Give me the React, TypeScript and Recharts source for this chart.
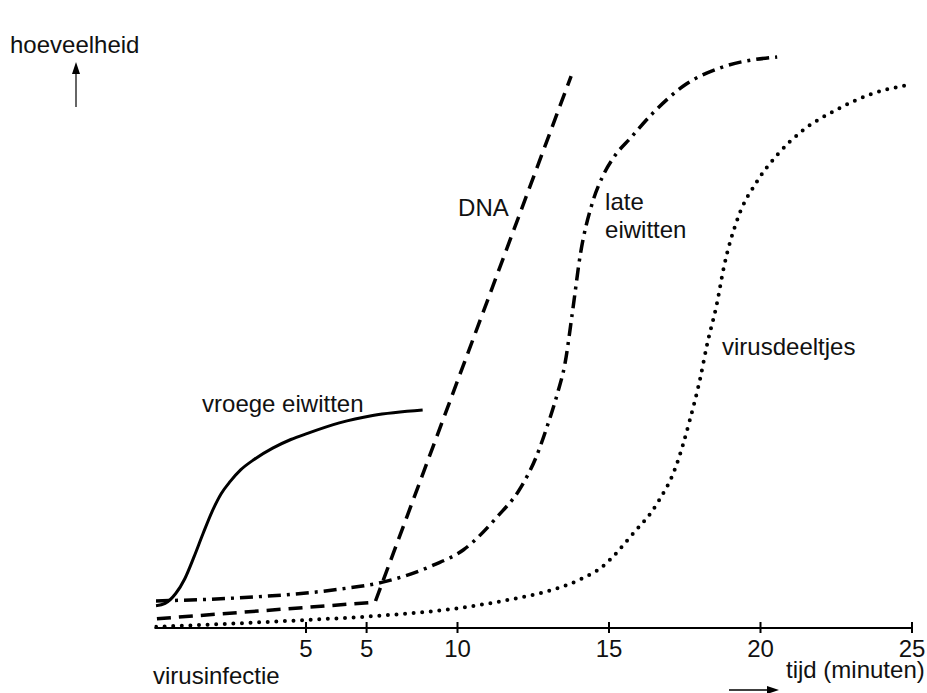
import React from 'react';
import { LineChart, Line, XAxis, YAxis, ReferenceDot } from 'recharts';

// time (minutes) vs amount (arbitrary units 0-100)
const vroegeEiwitten = [
  { t: 0.05, v: 3.6 }, { t: 0.35, v: 4.0 }, { t: 0.7, v: 5.6 }, { t: 1.0, v: 8.0 },
  { t: 1.3, v: 11.5 }, { t: 1.6, v: 15.3 }, { t: 1.9, v: 18.9 }, { t: 2.2, v: 21.8 },
  { t: 2.5, v: 23.8 }, { t: 2.85, v: 25.7 }, { t: 3.3, v: 27.4 }, { t: 3.9, v: 29.2 },
  { t: 4.5, v: 30.6 }, { t: 5.05, v: 31.6 }, { t: 6.1, v: 33.3 }, { t: 7.2, v: 34.5 },
  { t: 8.85, v: 35.4 },
];

const dna = [
  { t: 0.08, v: 1.5 }, { t: 7.28, v: 4.2 }, { t: 13.75, v: 89.6 },
];

const lateEiwitten = [
  { t: 0.05, v: 4.4 }, { t: 2.8, v: 4.9 }, { t: 6.1, v: 6.3 }, { t: 7.5, v: 7.4 },
  { t: 9.2, v: 10.2 }, { t: 10.2, v: 12.7 }, { t: 11.3, v: 18.0 }, { t: 12.1, v: 22.9 },
  { t: 12.6, v: 27.8 }, { t: 12.95, v: 32.6 }, { t: 13.3, v: 38.1 }, { t: 13.55, v: 43.0 },
  { t: 13.8, v: 51.5 }, { t: 14.05, v: 60.5 }, { t: 14.45, v: 69.0 }, { t: 14.8, v: 73.4 },
  { t: 15.2, v: 76.7 }, { t: 15.7, v: 79.5 }, { t: 16.45, v: 83.6 }, { t: 17.55, v: 88.3 },
  { t: 18.65, v: 90.9 }, { t: 20.55, v: 92.7 },
];

const virusdeeltjes = [
  { t: 0.05, v: 0.2 }, { t: 2.5, v: 0.7 }, { t: 5, v: 1.3 }, { t: 7, v: 1.85 },
  { t: 10, v: 3.2 }, { t: 11.6, v: 4.5 }, { t: 13.2, v: 6.3 }, { t: 14.1, v: 8.0 },
  { t: 14.77, v: 9.9 }, { t: 15.25, v: 12.2 }, { t: 15.7, v: 14.8 }, { t: 16.6, v: 20.3 },
  { t: 17.2, v: 26.1 }, { t: 17.67, v: 33.8 }, { t: 18.0, v: 40.3 }, { t: 18.25, v: 46.3 },
  { t: 18.55, v: 52.4 }, { t: 18.8, v: 58.8 }, { t: 19.25, v: 66.5 }, { t: 19.9, v: 72.6 },
  { t: 20.55, v: 76.8 }, { t: 21.4, v: 80.8 }, { t: 22.5, v: 84.1 }, { t: 23.6, v: 86.6 },
  { t: 24.8, v: 88.1 },
];

const xTicks = [5, 7, 10, 15, 20, 25];
const xTickLabels = ['5', '5', '10', '15', '20', '25'];

const curveLabels = [
  { t: 1.57, v: 35.1, lines: ['vroege eiwitten'] },
  { t: 10.02, v: 66.9, lines: ['DNA'] },
  { t: 14.87, v: 67.9, lines: ['late', 'eiwitten'] },
  { t: 18.73, v: 44.3, lines: ['virusdeeltjes'] },
];

const FONT = '"Liberation Sans", Arial, Helvetica, sans-serif';
const FS = 24;
const INK = '#111';

const XTick = (props: any) => {
  const { x, y, index } = props;
  return (
    <g>
      <line x1={x} x2={x} y1={y - 6} y2={y + 5} stroke="#000" strokeWidth={2} />
      <text x={x} y={y + 29} textAnchor="middle" fontFamily={FONT} fontSize={FS} fill={INK}>
        {xTickLabels[index]}
      </text>
    </g>
  );
};

const makeLabel = (lines: string[]) => (props: any) => {
  const vb = props.viewBox || {};
  const x = vb.x ?? 0;
  const y = vb.y ?? 0;
  return (
    <text x={x} y={y} fontFamily={FONT} fontSize={FS} fill={INK}>
      {lines.map((l, i) => (
        <tspan key={i} x={x} dy={i === 0 ? 0 : 28}>{l}</tspan>
      ))}
    </text>
  );
};

export default function App() {
  return (
    <div style={{ position: 'absolute', left: 0, top: 0, width: 927, height: 693, background: '#fff' }}>
      <LineChart
        width={927}
        height={693}
        margin={{ top: 12, right: 15, bottom: 35, left: 154.5 }}
      >
        <XAxis
          type="number"
          dataKey="t"
          domain={[0, 25]}
          ticks={xTicks}
          height={30}
          tickSize={0}
          tickMargin={0}
          tickLine={false}
          tick={<XTick />}
          axisLine={{ stroke: '#000', strokeWidth: 2 }}
          allowDataOverflow
        />
        <YAxis
          type="number"
          domain={[0, 100]}
          width={0}
          tick={false}
          tickLine={false}
          axisLine={{ stroke: '#000', strokeWidth: 2 }}
          allowDataOverflow
        />
        <Line
          data={vroegeEiwitten}
          dataKey="v"
          type="monotone"
          stroke="#000"
          strokeWidth={3}
          dot={false}
          activeDot={false}
          isAnimationActive={false}
        />
        <Line
          data={dna}
          dataKey="v"
          type="linear"
          stroke="#000"
          strokeWidth={3.5}
          strokeDasharray="14 8"
          dot={false}
          activeDot={false}
          isAnimationActive={false}
        />
        <Line
          data={lateEiwitten}
          dataKey="v"
          type="monotone"
          stroke="#000"
          strokeWidth={3.5}
          strokeDasharray="13 6 3 6"
          dot={false}
          activeDot={false}
          isAnimationActive={false}
        />
        <Line
          data={virusdeeltjes}
          dataKey="v"
          type="monotone"
          stroke="#000"
          strokeWidth={4}
          strokeLinecap="round"
          strokeDasharray="0 8.6"
          dot={false}
          activeDot={false}
          isAnimationActive={false}
        />
        {curveLabels.map((c, i) => (
          <ReferenceDot
            key={i}
            x={c.t}
            y={c.v}
            r={0}
            fill="none"
            stroke="none"
            label={makeLabel(c.lines)}
          />
        ))}
      </LineChart>
      <svg
        width={927}
        height={693}
        style={{ position: 'absolute', left: 0, top: 0, pointerEvents: 'none' }}
      >
        <text x={10} y={53} fontFamily={FONT} fontSize={FS} fill={INK}>hoeveelheid</text>
        <line x1={76} x2={76} y1={107} y2={72} stroke="#333" strokeWidth={1.5} />
        <path d="M76 62 L72 74 L80 74 Z" fill="#000" />
        <text x={153} y={684} fontFamily={FONT} fontSize={FS} fill={INK}>virusinfectie</text>
        <text x={786} y={678} fontFamily={FONT} fontSize={FS} fill={INK}>tijd (minuten)</text>
        <line x1={729} x2={768} y1={690} y2={690} stroke="#000" strokeWidth={1.5} />
        <path d="M779 690 L767 686 L767 694 Z" fill="#000" />
      </svg>
    </div>
  );
}
